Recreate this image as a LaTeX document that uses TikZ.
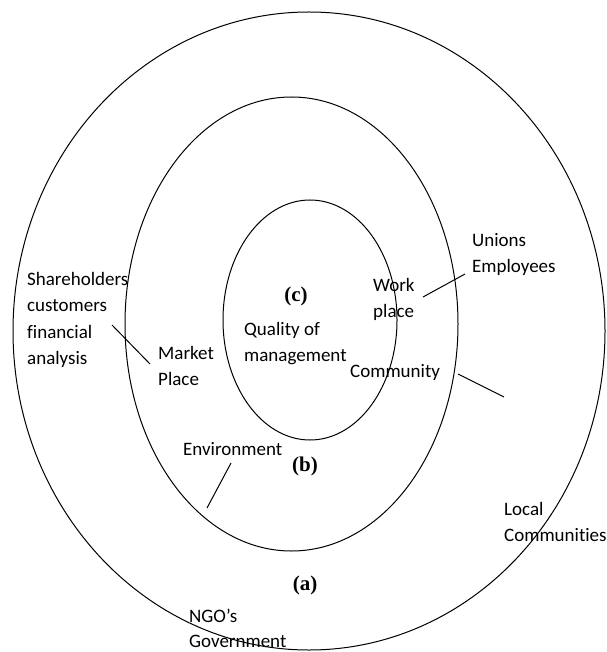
\documentclass[tikz,border=0pt]{standalone}
\usepackage{fontspec}
\setmainfont{Carlito}[Ligatures=NoCommon]
\newfontfamily\labfont{Liberation Serif}
\usetikzlibrary{shapes.geometric}
\begin{document}
\begin{tikzpicture}[x=1pt,y=-1pt,
  ring/.style={draw,ellipse,line width=1pt,inner sep=0pt},
  lbl/.style={anchor=base west,inner sep=0pt,font=\fontsize{19}{26}\selectfont,align=left},
  tag/.style={inner sep=0pt,font=\labfont\bfseries\fontsize{21}{24}\selectfont},
  ptr/.style={line width=1pt}]
\useasboundingbox (0,0) rectangle (606,652);
\node[ring,minimum width=592pt,minimum height=638pt] (outer) at (309,331) {};
\node[ring,minimum width=333pt,minimum height=454pt] (middle) at (291.5,324) {};
\node[ring,minimum width=174pt,minimum height=240pt] (inner) at (310,320) {};
% labels
\node[lbl] (sh1) at (27,285) {Shareholders};
\node[lbl] (sh2) at (27,311.5) {customers};
\node[lbl] (sh3) at (27,338) {financial};
\node[lbl] (sh4) at (27,364) {analysis};
\node[lbl] (mk1) at (158,359) {Market};
\node[lbl] (mk2) at (158,385.5) {Place};
\node[lbl] (q1) at (244,335) {Quality of};
\node[lbl] (q2) at (244,361.5) {management};
\node[lbl] (wp1) at (373,291) {Work};
\node[lbl] (wp2) at (373,317) {place};
\node[lbl] (com) at (350,377) {Community};
\node[lbl] (un1) at (472,246) {Unions};
\node[lbl] (un2) at (472,272) {Employees};
\node[lbl] (env) at (183,455) {Environment};
\node[lbl] (lc1) at (504,515) {Local};
\node[lbl] (lc2) at (504,541) {Communities};
\node[lbl] (ng1) at (189,622) {NGO’s};
\node[lbl] (ng2) at (189,647) {Government};
\node[tag] (c) at (296,296) {(c)};
\node[tag] (b) at (305,466) {(b)};
\node[tag] (a) at (305,585) {(a)};
% pointer lines
\coordinate (p1a) at (112,325); \coordinate (p1b) at (150,364);
\coordinate (p2a) at (423,297); \coordinate (p2b) at (465,274);
\coordinate (p3a) at (458,374); \coordinate (p3b) at (504,397);
\coordinate (p4a) at (231,463); \coordinate (p4b) at (207,508);
\draw[ptr] (p1a) -- (p1b);
\draw[ptr] (p2a) -- (p2b);
\draw[ptr] (p3a) -- (p3b);
\draw[ptr] (p4a) -- (p4b);
\end{tikzpicture}
\end{document}
